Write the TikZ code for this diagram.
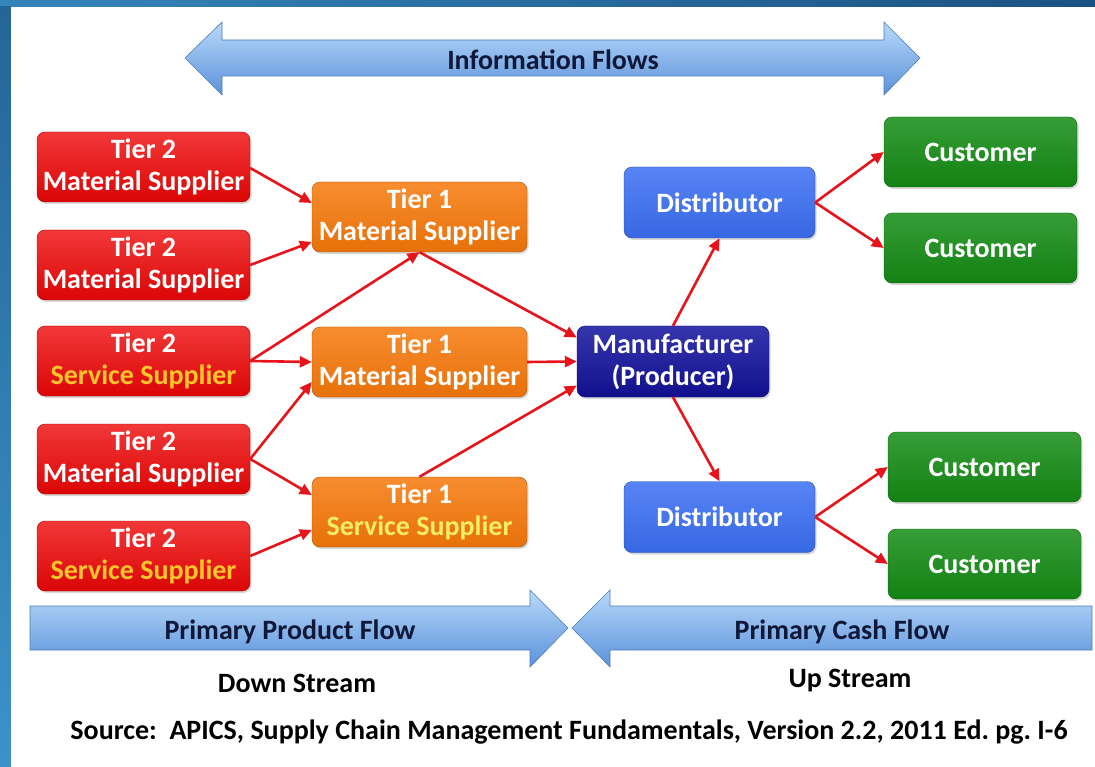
\documentclass[tikz,border=0pt]{standalone}
\usepackage{fontspec}
\setmainfont{Carlito}
\usepackage{tikz}
\usetikzlibrary{arrows.meta,calc,positioning,shadows}

\definecolor{framedark}{HTML}{1C5282}
\definecolor{framelight}{HTML}{3C92C8}
\definecolor{supred}{HTML}{EE0606}
\definecolor{suporange}{HTML}{F6780A}
\definecolor{mfrblue}{HTML}{12129E}
\definecolor{distblue}{HTML}{3A6EF2}
\definecolor{custgreen}{HTML}{148C14}
\definecolor{linkred}{HTML}{E8141C}
\definecolor{goldtext}{HTML}{FFC52A}
\definecolor{paletext}{HTML}{F4EE62}
\definecolor{flowtop}{HTML}{B8D9FA}
\definecolor{flowbot}{HTML}{5B92DA}
\definecolor{flowtext}{HTML}{0F1838}

\frenchspacing
\begin{document}
\begin{tikzpicture}[x=1pt, y=-1pt,
  every node/.style={font=\fontsize{28}{32}\selectfont\bfseries},
  box/.style={rounded corners=8pt, align=center, text=white, inner sep=0pt,
    drop shadow={opacity=0.3, shadow xshift=1.5pt, shadow yshift=-2pt}},
  tiertwo/.style={box, top color=supred!80!white, bottom color=supred!92!black,
    draw=supred!70!black, minimum width=213pt, minimum height=70pt},
  tierone/.style={box, top color=suporange!85!white, bottom color=suporange!94!black,
    draw=suporange!70!black, minimum width=215pt, minimum height=70pt},
  maker/.style={box, top color=mfrblue!85!white, bottom color=mfrblue!90!black,
    draw=mfrblue!70!black, minimum width=192pt, minimum height=71pt},
  distbox/.style={box, top color=distblue!85!white, bottom color=distblue!94!black,
    draw=distblue!70!black, minimum width=191pt, minimum height=71pt},
  custbox/.style={box, top color=custgreen!85!white, bottom color=custgreen!92!black,
    draw=custgreen!70!black, minimum width=193pt, minimum height=70pt},
  link/.style={draw=linkred, line width=2.6pt, -{Triangle[length=12pt,width=11pt]}},
  bigflow/.style={top color=flowtop, bottom color=flowbot, draw=flowbot!85!black, line width=0.6pt},
  flowlabel/.style={text=flowtext}]

  % frame and page
  \useasboundingbox (0,0) rectangle (1095,767);
  \fill[left color=framelight!80!framedark, right color=framedark] (0,0) rectangle (1095,7);
  \fill[top color=framedark!70!framelight, bottom color=framelight] (0,7) rectangle (11,767);
  \fill[white] (11,7) rectangle (1095,767);

  % wide flow arrows
  \path[bigflow] (185,58) -- (222,22) -- (222,40) -- (884,40) -- (884,22) -- (920,58)
    -- (884,95) -- (884,76) -- (222,76) -- (222,95) -- cycle;
  \node[flowlabel] (info) at (553,60) {Information Flows};
  \path[bigflow] (30,606) -- (530,606) -- (530,590) -- (568,628) -- (530,667)
    -- (530,650) -- (30,650) -- cycle;
  \node[flowlabel] (product) at (290,632) {Primary Product Flow};
  \path[bigflow] (572,628) -- (610,590) -- (610,606) -- (1092,606) -- (1092,650)
    -- (610,650) -- (610,667) -- cycle;
  \node[flowlabel] (cash) at (842,632) {Primary Cash Flow};

  % tier 2 suppliers
  \node[tiertwo] (t2a) at (143.5,167) {Tier 2\\Material Supplier};
  \node[tiertwo] (t2b) at (143.5,265) {Tier 2\\Material Supplier};
  \node[tiertwo] (t2c) at (143.5,361) {Tier 2\\\textcolor{goldtext}{Service Supplier}};
  \node[tiertwo] (t2d) at (143.5,459) {Tier 2\\Material Supplier};
  \node[tiertwo] (t2e) at (143.5,556) {Tier 2\\\textcolor{goldtext}{Service Supplier}};

  % tier 1 suppliers
  \node[tierone] (t1a) at (419.5,217) {Tier 1\\Material Supplier};
  \node[tierone] (t1b) at (419.5,362) {Tier 1\\Material Supplier};
  \node[tierone] (t1c) at (419.5,512) {Tier 1\\\textcolor{paletext}{Service Supplier}};

  % producer, distributors, customers
  \node[maker] (mfr) at (673,361.5) {Manufacturer\\(Producer)};
  \node[distbox] (dist1) at (719.5,202.5) {Distributor};
  \node[distbox] (dist2) at (719.5,517) {Distributor};
  \node[custbox] (cus1) at (980.5,152) {Customer};
  \node[custbox] (cus2) at (980.5,248) {Customer};
  \node[custbox] (cus3) at (984.5,467) {Customer};
  \node[custbox] (cus4) at (984.5,564) {Customer};

  % links
  \draw[link] ($(t2a.east)+(0,1)$) -- ($(t1a.west)+(0,-14)$);
  \draw[link] (t2b.east) -- ($(t1a.west)+(0,25)$);
  \draw[link] (t2c.east) -- (t1a.south);
  \draw[link] (t2c.east) -- (t1b.west);
  \draw[link] (t2d.east) -- ($(t1b.west)+(0,20)$);
  \draw[link] (t2d.east) -- ($(t1c.west)+(0,-17)$);
  \draw[link] (t2e.east) -- ($(t1c.west)+(0,18)$);
  \draw[link] (t1a.south) -- ($(mfr.west)+(0,-24)$);
  \draw[link] (t1b.east) -- (mfr.west);
  \draw[link] (t1c.north) -- ($(mfr.west)+(0,24)$);
  \draw[link] (mfr.north) -- (dist1.south);
  \draw[link] (mfr.south) -- (dist2.north);
  \foreach \d/\a/\b in {dist1/cus1/cus2, dist2/cus3/cus4} {
    \draw[link] (\d.east) -- (\a.west);
    \draw[link] (\d.east) -- (\b.west);
  }

  % captions
  \node (down) at (297,683) {Down Stream};
  \node (up) at (850,681) {Up Stream};
  \node (source) at (569,732) {Source:\ \ APICS, Supply Chain Management Fundamentals, Version 2.2, 2011 Ed. pg. I-6};
\end{tikzpicture}
\end{document}
